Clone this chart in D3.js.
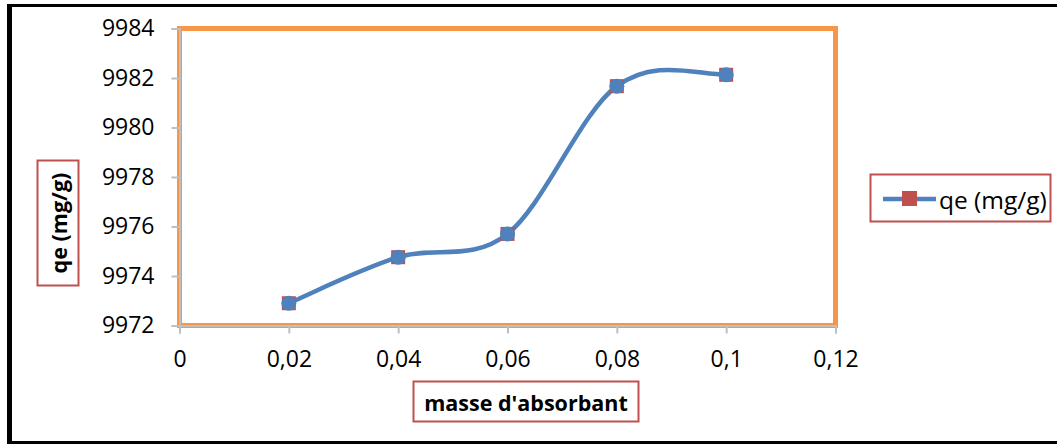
<!DOCTYPE html>
<html>
<head>
<meta charset="utf-8">
<script src="https://cdn.jsdelivr.net/npm/d3@7"></script>
<style>
  html, body { margin: 0; padding: 0; background: #fff; }
  svg { display: block; }
  text { font-family: "Open Sans", "Liberation Sans", sans-serif; fill: #000; }
</style>
</head>
<body>
<svg id="chart" width="1057" height="444"></svg>
<script>
const xValues = [0.02, 0.04, 0.06, 0.08, 0.1];
const qeValues = [9972.9, 9974.76, 9975.7, 9981.67, 9982.13];
const xTicks = [0, 0.02, 0.04, 0.06, 0.08, 0.1, 0.12];
const xTickLabels = ["0", "0,02", "0,04", "0,06", "0,08", "0,1", "0,12"];
const yTicks = [9972, 9974, 9976, 9978, 9980, 9982, 9984];
const seriesName = "qe (mg/g)";
const xTitle = "masse d'absorbant";
const yTitle = "qe (mg/g)";

const svg = d3.select("#chart");
const W = 1057, H = 444;
const L = 179.5, R = 835.5, T = 28.5, B = 325.5;

const x = d3.scaleLinear().domain([0, 0.12]).range([L, R]);
const y = d3.scaleLinear().domain([9972, 9984]).range([B, T]);

// outer frame
svg.append("rect").attr("x", 9.5).attr("y", 5.5).attr("width", W + 10).attr("height", 437)
  .attr("fill", "#fff").attr("stroke", "#000").attr("stroke-width", 3);
svg.append("line").attr("x1", 9.5).attr("x2", 9.5).attr("y1", 4).attr("y2", 444)
  .attr("stroke", "#000").attr("stroke-width", 5);

// plot area border
svg.append("rect").attr("x", L).attr("y", T).attr("width", R - L).attr("height", B - T)
  .attr("fill", "#fff").attr("stroke", "#F79646").attr("stroke-width", 5);

// axes
const gy = svg.append("g").attr("transform", `translate(${L},0)`)
  .call(d3.axisLeft(y).tickValues(yTicks).tickSize(8).tickPadding(17).tickFormat(d3.format("d")));
const gx = svg.append("g").attr("transform", `translate(0,${B})`)
  .call(d3.axisBottom(x).tickValues(xTicks).tickSize(8).tickPadding(17)
    .tickFormat((d, i) => xTickLabels[i]));
[gy, gx].forEach(g => {
  g.selectAll(".domain").attr("stroke", "#BFBFBF").attr("stroke-width", 2);
  g.selectAll(".tick line").attr("stroke", "#BFBFBF").attr("stroke-width", 2);
  g.selectAll(".tick text").attr("font-size", 23).attr("font-family", "'Open Sans', sans-serif").attr("fill", "#000");
});

// smoothed line (spreadsheet-style Bezier smoothing)
function smoothPath(xs, ys) {
  const n = xs.length;
  const m = new Array(n);
  for (let i = 1; i < n - 1; i++) m[i] = (ys[i + 1] - ys[i - 1]) / 2;
  const k = 0.25;
  const s0 = ys[1] - ys[0], sn = ys[n - 1] - ys[n - 2];
  m[0] = s0 - (m[1] - s0) * k;
  m[n - 1] = sn - (m[n - 2] - sn) * k;
  const p = d3.path();
  p.moveTo(x(xs[0]), y(ys[0]));
  for (let i = 0; i < n - 1; i++) {
    const h = xs[i + 1] - xs[i];
    p.bezierCurveTo(
      x(xs[i] + h / 3), y(ys[i] + m[i] / 3),
      x(xs[i + 1] - h / 3), y(ys[i + 1] - m[i + 1] / 3),
      x(xs[i + 1]), y(ys[i + 1]));
  }
  return p.toString();
}
svg.append("path").attr("d", smoothPath(xValues, qeValues))
  .attr("fill", "none").attr("stroke", "#4F81BD").attr("stroke-width", 4.5);

const pts = xValues.map((v, i) => [x(v), y(qeValues[i])]);
// markers
svg.selectAll(".sq").data(pts).join("rect")
  .attr("x", d => d[0] - 7).attr("y", d => d[1] - 7).attr("width", 14).attr("height", 14)
  .attr("fill", "#C0504D");
svg.selectAll(".ci").data(pts).join("circle")
  .attr("cx", d => d[0]).attr("cy", d => d[1]).attr("r", 7.5)
  .attr("fill", "#4F81BD");

// y title
svg.append("rect").attr("x", 37.5).attr("y", 160.5).attr("width", 41).attr("height", 125)
  .attr("fill", "#fff").attr("stroke", "#C0504D").attr("stroke-width", 2);
svg.append("text").attr("transform", "translate(58,223) rotate(-90)")
  .attr("text-anchor", "middle").attr("dominant-baseline", "central")
  .attr("font-size", 21.5).attr("font-weight", "bold").text(yTitle);

// x title
svg.append("rect").attr("x", 413.5).attr("y", 381.5).attr("width", 225).attr("height", 40)
  .attr("fill", "#fff").attr("stroke", "#C0504D").attr("stroke-width", 2);
svg.append("text").attr("x", 526).attr("y", 402)
  .attr("text-anchor", "middle").attr("dominant-baseline", "central")
  .attr("font-size", 21.5).attr("font-weight", "bold").text(xTitle);

// legend
svg.append("rect").attr("x", 870.5).attr("y", 174.5).attr("width", 180).attr("height", 47)
  .attr("fill", "#fff").attr("stroke", "#C0504D").attr("stroke-width", 2);
svg.append("line").attr("x1", 883).attr("x2", 936).attr("y1", 199).attr("y2", 199)
  .attr("stroke", "#4F81BD").attr("stroke-width", 4.5);
svg.append("rect").attr("x", 902).attr("y", 191).attr("width", 15).attr("height", 15)
  .attr("fill", "#C0504D");
svg.append("text").attr("x", 939).attr("y", 199).attr("dominant-baseline", "central")
  .attr("font-size", 24.5).text(seriesName);
</script>
</body>
</html>
